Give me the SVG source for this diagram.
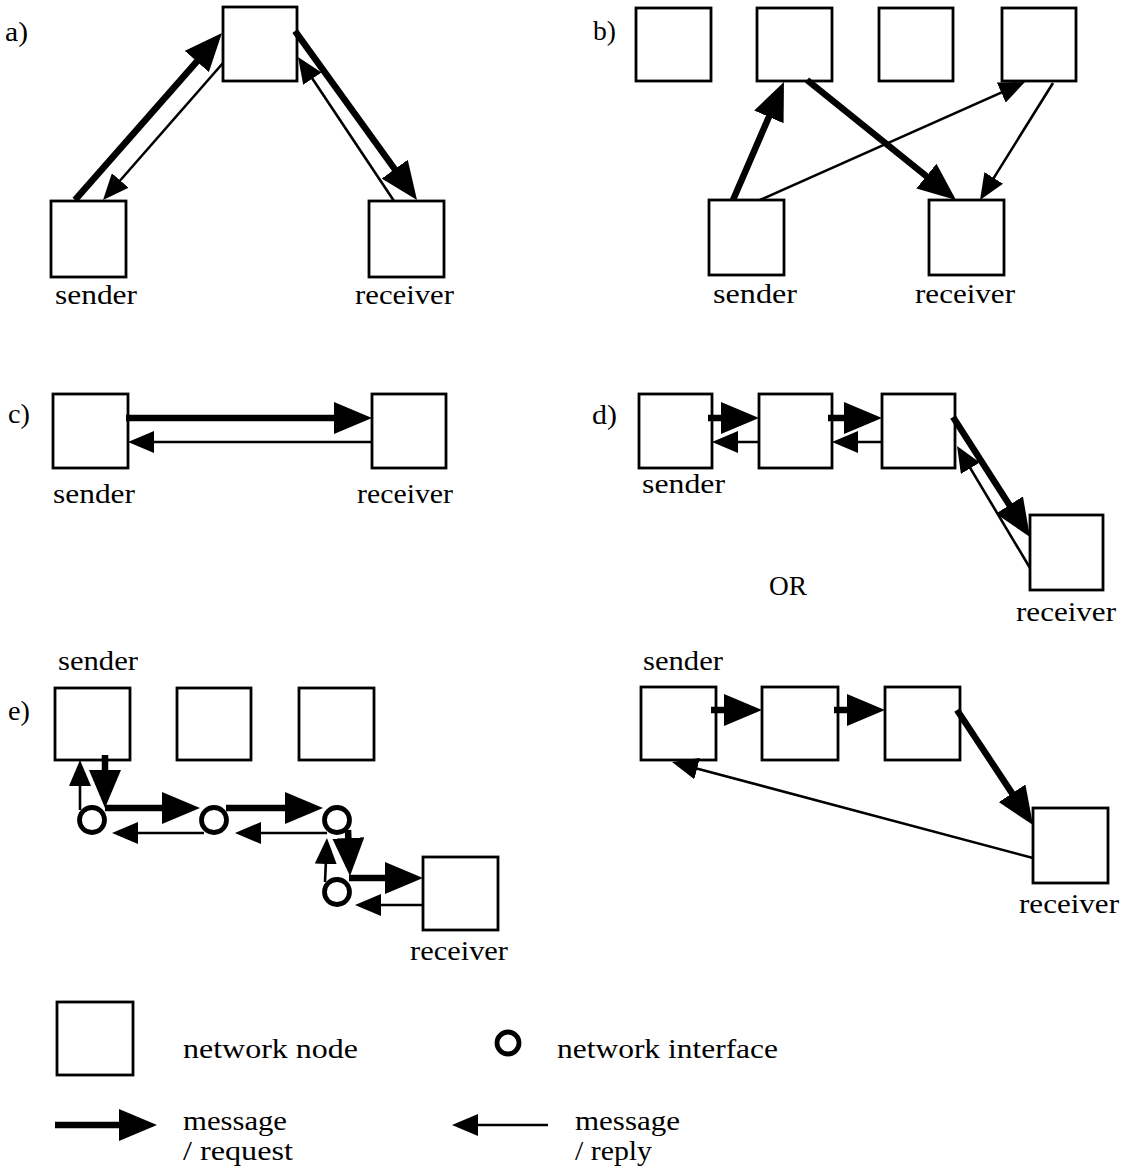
<svg xmlns="http://www.w3.org/2000/svg" width="1123" height="1175" viewBox="0 0 1123 1175">
<style>
.box{fill:#fff;stroke:#000;stroke-width:2.8}
.ni{fill:#fff;stroke:#000;stroke-width:4.8}
.req{stroke:#000;stroke-width:6.5;fill:none;marker-end:url(#big)}
.rep{stroke:#000;stroke-width:2.6;fill:none;marker-end:url(#small)}
text{font-family:"Liberation Serif","Times New Roman",serif;font-size:28px;fill:#000}
</style>
<defs>
<marker id="big" markerUnits="userSpaceOnUse" markerWidth="38" markerHeight="32" refX="24" refY="16" orient="auto" viewBox="0 0 38 32"><path d="M0,0 L38,16 L0,32 Z" fill="#000"/></marker>
<marker id="small" markerUnits="userSpaceOnUse" markerWidth="26" markerHeight="22" refX="20" refY="11" orient="auto" viewBox="0 0 26 22"><path d="M0,0 L26,11 L0,22 Z" fill="#000"/></marker>
</defs>
<rect width="1123" height="1175" fill="#fff"/>

<g id="labels">
<text x="5" y="41" textLength="23" lengthAdjust="spacingAndGlyphs">a)</text>
<text x="593" y="40" textLength="23" lengthAdjust="spacingAndGlyphs">b)</text>
<text x="8" y="423" textLength="22" lengthAdjust="spacingAndGlyphs">c)</text>
<text x="592" y="424" textLength="25" lengthAdjust="spacingAndGlyphs">d)</text>
<text x="8" y="720" textLength="22" lengthAdjust="spacingAndGlyphs">e)</text>
<text x="769" y="595" textLength="38" lengthAdjust="spacingAndGlyphs">OR</text>
</g>

<!-- panel a -->
<g id="a-top"><rect class="box" x="223" y="7" width="74" height="74"/></g>
<g id="a-sender"><rect class="box" x="51" y="201" width="75" height="76"/><text x="55" y="304" textLength="82" lengthAdjust="spacingAndGlyphs">sender</text></g>
<g id="a-receiver"><rect class="box" x="369" y="201" width="75" height="76"/><text x="355" y="304" textLength="99" lengthAdjust="spacingAndGlyphs">receiver</text></g>

<!-- panel b -->
<g id="b-n1"><rect class="box" x="636" y="8" width="75" height="73"/></g>
<g id="b-n2"><rect class="box" x="757" y="8" width="75" height="73"/></g>
<g id="b-n3"><rect class="box" x="879" y="8" width="74" height="73"/></g>
<g id="b-n4"><rect class="box" x="1002" y="8" width="74" height="73"/></g>
<g id="b-sender"><rect class="box" x="709" y="200" width="75" height="75"/><text x="713" y="303" textLength="84" lengthAdjust="spacingAndGlyphs">sender</text></g>
<g id="b-receiver"><rect class="box" x="929" y="200" width="75" height="75"/><text x="915" y="303" textLength="100" lengthAdjust="spacingAndGlyphs">receiver</text></g>

<!-- panel c -->
<g id="c-sender"><rect class="box" x="53" y="394" width="75" height="74"/><text x="53" y="503" textLength="82" lengthAdjust="spacingAndGlyphs">sender</text></g>
<g id="c-receiver"><rect class="box" x="372" y="394" width="74" height="74"/><text x="357" y="503" textLength="96" lengthAdjust="spacingAndGlyphs">receiver</text></g>

<!-- panel d -->
<g id="d-sender"><rect class="box" x="639" y="394" width="73" height="74"/><text x="642" y="493" textLength="83" lengthAdjust="spacingAndGlyphs">sender</text></g>
<g id="d-n2"><rect class="box" x="759" y="394" width="73" height="74"/></g>
<g id="d-n3"><rect class="box" x="882" y="394" width="73" height="74"/></g>
<g id="d-receiver"><rect class="box" x="1030" y="515" width="73" height="75"/><text x="1016" y="621" textLength="100" lengthAdjust="spacingAndGlyphs">receiver</text></g>

<!-- panel d (OR) -->
<g id="d2-sender"><rect class="box" x="641" y="687" width="75" height="73"/><text x="643" y="670" textLength="80" lengthAdjust="spacingAndGlyphs">sender</text></g>
<g id="d2-n2"><rect class="box" x="762" y="687" width="76" height="73"/></g>
<g id="d2-n3"><rect class="box" x="885" y="687" width="75" height="73"/></g>
<g id="d2-receiver"><rect class="box" x="1033" y="808" width="75" height="75"/><text x="1019" y="913" textLength="100" lengthAdjust="spacingAndGlyphs">receiver</text></g>

<!-- panel e -->
<g id="e-sender"><rect class="box" x="55" y="688" width="75" height="72"/><text x="58" y="670" textLength="80" lengthAdjust="spacingAndGlyphs">sender</text></g>
<g id="e-n2"><rect class="box" x="177" y="688" width="74" height="72"/></g>
<g id="e-n3"><rect class="box" x="299" y="688" width="75" height="72"/></g>
<g id="e-receiver"><rect class="box" x="423" y="857" width="75" height="73"/><text x="410" y="960" textLength="98" lengthAdjust="spacingAndGlyphs">receiver</text></g>

<!-- legend -->
<g id="legend-node"><rect class="box" x="57" y="1002" width="76" height="73"/><text x="183" y="1058" textLength="175" lengthAdjust="spacingAndGlyphs">network node</text></g>
<g id="legend-interface"><circle class="ni" cx="508" cy="1043" r="11"/><text x="557" y="1058" textLength="221" lengthAdjust="spacingAndGlyphs">network interface</text></g>
<g id="legend-request"><text x="183" y="1130" textLength="104" lengthAdjust="spacingAndGlyphs">message</text><text x="183" y="1160" textLength="110" lengthAdjust="spacingAndGlyphs">/ request</text></g>
<g id="legend-reply"><text x="575" y="1130" textLength="105" lengthAdjust="spacingAndGlyphs">message</text><text x="575" y="1160" textLength="77" lengthAdjust="spacingAndGlyphs">/ reply</text></g>

<g id="connectors">
<!-- a -->
<line class="req" x1="75" y1="200" x2="212.7" y2="43.5"/>
<line class="rep" x1="223" y1="63" x2="107" y2="195.5"/>
<line class="req" x1="295" y1="31" x2="408.8" y2="188.6"/>
<line class="rep" x1="394" y1="201" x2="301.3" y2="62"/>
<!-- b -->
<line class="req" x1="733" y1="200" x2="778.4" y2="94.9"/>
<line class="req" x1="807" y1="80" x2="945.1" y2="191.2"/>
<line class="rep" x1="760" y1="200" x2="1019.5" y2="84.4"/>
<line class="rep" x1="1053" y1="83" x2="983.2" y2="194.9"/>
<!-- c -->
<line class="req" x1="126" y1="418" x2="358" y2="418"/>
<line class="rep" x1="372" y1="442" x2="134" y2="442"/>
<!-- d -->
<line class="req" x1="708" y1="418" x2="745" y2="418"/>
<line class="rep" x1="759" y1="442" x2="718" y2="442"/>
<line class="req" x1="828" y1="418" x2="868" y2="418"/>
<line class="rep" x1="882" y1="442" x2="838" y2="442"/>
<line class="req" x1="953" y1="417" x2="1022.4" y2="525.2"/>
<line class="rep" x1="1030" y1="568" x2="960.1" y2="451.1"/>
<!-- d OR -->
<line class="req" x1="711" y1="710" x2="748" y2="710"/>
<line class="req" x1="834" y1="710" x2="871" y2="710"/>
<line class="req" x1="957" y1="710" x2="1025.3" y2="813.3"/>
<line class="rep" x1="1033" y1="858" x2="677.8" y2="763.5"/>
<!-- e -->
<line class="rep" x1="80" y1="810" x2="80" y2="766"/>
<line class="req" x1="105" y1="755" x2="105" y2="794"/>
<line class="req" x1="105" y1="808" x2="186" y2="808"/>
<line class="rep" x1="204" y1="833" x2="118" y2="833"/>
<line class="req" x1="226" y1="808" x2="309" y2="808"/>
<line class="rep" x1="327" y1="833" x2="241" y2="833"/>
<line class="req" x1="348" y1="830" x2="349.4" y2="862"/>
<line class="rep" x1="325" y1="882" x2="326.7" y2="844"/>
<line class="req" x1="349" y1="878" x2="409" y2="878"/>
<line class="rep" x1="423" y1="905" x2="361" y2="905"/>
<!-- legend -->
<line class="req" x1="55" y1="1125" x2="143" y2="1125"/>
<line class="rep" x1="548" y1="1125" x2="458" y2="1125"/>
</g>

<g id="e-if1"><circle class="ni" cx="92" cy="820" r="12.5"/></g>
<g id="e-if2"><circle class="ni" cx="214" cy="820" r="12.5"/></g>
<g id="e-if3"><circle class="ni" cx="337" cy="820" r="12.5"/></g>
<g id="e-if4"><circle class="ni" cx="337" cy="892" r="12.5"/></g>
</svg>
